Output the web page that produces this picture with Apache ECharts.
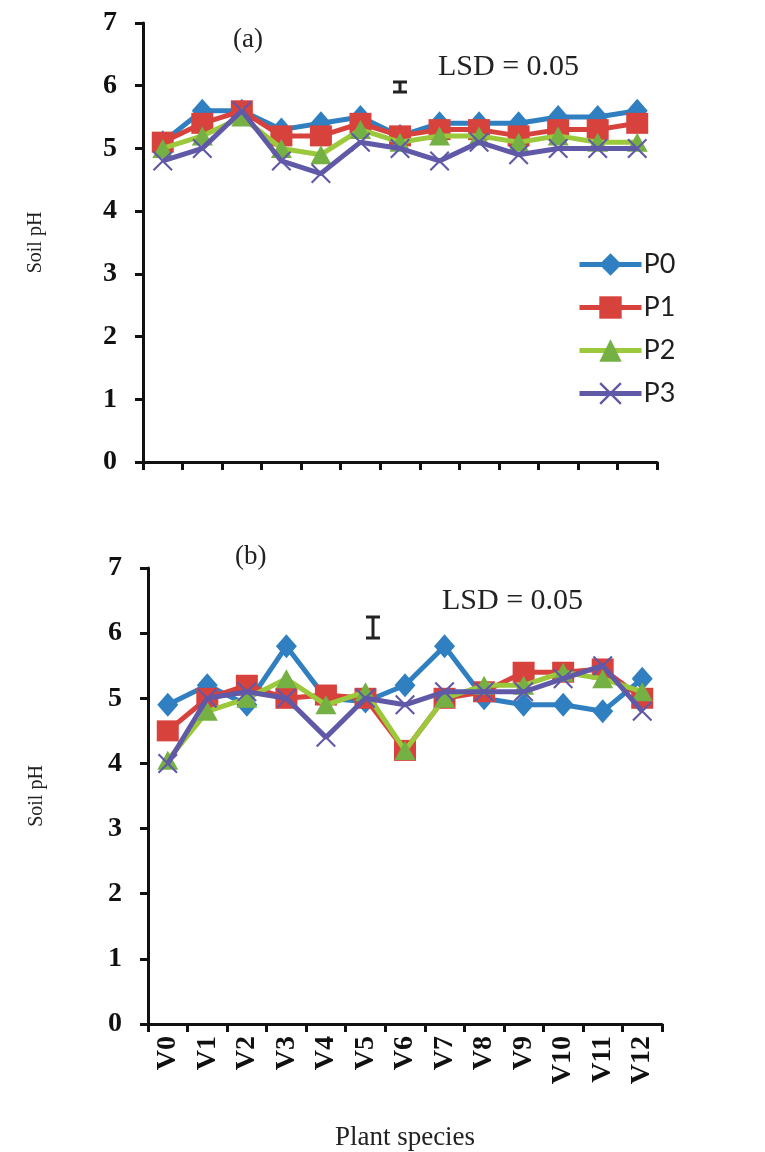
<!DOCTYPE html>
<html>
<head>
<meta charset="utf-8">
<script src="https://cdn.jsdelivr.net/npm/echarts@6.0.0/dist/echarts.min.js"></script>
<style>
  html, body { margin: 0; padding: 0; background: #ffffff; }
  #chart { width: 765px; height: 1152px; }
</style>
</head>
<body>
<div id="chart"></div>
<script>
// Plant species on the x axis
const species = ['V0', 'V1', 'V2', 'V3', 'V4', 'V5', 'V6', 'V7', 'V8', 'V9', 'V10', 'V11', 'V12'];
const seriesNames = ['P0', 'P1', 'P2', 'P3'];

// Panel (a): soil pH per phosphorus level
const phA_P0 = [5.1, 5.6, 5.6, 5.3, 5.4, 5.5, 5.2, 5.4, 5.4, 5.4, 5.5, 5.5, 5.6];
const phA_P1 = [5.1, 5.4, 5.6, 5.2, 5.2, 5.4, 5.2, 5.3, 5.3, 5.2, 5.3, 5.3, 5.4];
const phA_P2 = [5.0, 5.2, 5.5, 5.0, 4.9, 5.3, 5.1, 5.2, 5.2, 5.1, 5.2, 5.1, 5.1];
const phA_P3 = [4.8, 5.0, 5.6, 4.8, 4.6, 5.1, 5.0, 4.8, 5.1, 4.9, 5.0, 5.0, 5.0];

// Panel (b): soil pH per phosphorus level
const phB_P0 = [4.9, 5.2, 4.9, 5.8, 5.0, 4.95, 5.2, 5.8, 5.0, 4.9, 4.9, 4.8, 5.3];
const phB_P1 = [4.5, 5.0, 5.2, 5.0, 5.05, 5.0, 4.2, 5.0, 5.1, 5.4, 5.4, 5.45, 5.0];
const phB_P2 = [4.05, 4.8, 5.0, 5.3, 4.9, 5.1, 4.2, 5.0, 5.2, 5.2, 5.4, 5.3, 5.1];
const phB_P3 = [4.0, 5.0, 5.1, 5.0, 4.4, 5.0, 4.9, 5.1, 5.1, 5.1, 5.3, 5.5, 4.8];

// y axis range and step
const yMin = 0, yMax = 7, yStep = 1;

const serif = '"Liberation Serif", "DejaVu Serif", serif';
const lineColors = ['#2f7fc1', '#d8423c', '#9cc83c', '#6059a8'];
const markColors = ['#2f7fc1', '#d8423c', '#74b043', '#6059a8'];
const crossPath = 'path://M0,1.5L1.5,0L10,8.5L18.5,0L20,1.5L11.5,10L20,18.5L18.5,20L10,11.5L1.5,20L0,18.5L8.5,10Z';
const symbols = ['diamond', 'rect', 'triangle', crossPath];
const symbolSizes = [[21, 24], [22, 21], [21, 19], [20, 20]];

function makeSeries(idx, data, axisIndex) {
  return {
    name: seriesNames[idx],
    type: 'line',
    xAxisIndex: axisIndex,
    yAxisIndex: axisIndex,
    data: data,
    symbol: symbols[idx],
    symbolSize: symbolSizes[idx],
    showSymbol: true,
    lineStyle: { color: lineColors[idx], width: 5 },
    itemStyle: { color: markColors[idx], borderWidth: 0 },
    z: 2 + idx
  };
}

function makeXAxis(gridIndex, showLabels) {
  return {
    type: 'category',
    gridIndex: gridIndex,
    data: species,
    boundaryGap: true,
    axisLine: { lineStyle: { color: '#111', width: 3 } },
    axisTick: { show: true, length: 8, lineStyle: { color: '#111', width: 3 } },
    axisLabel: {
      show: showLabels, rotate: 90, margin: 12, interval: 0,
      fontFamily: serif, fontWeight: 'bold', fontSize: 28, color: '#111'
    },
    name: showLabels ? 'Plant species' : '',
    nameLocation: 'middle',
    nameGap: 100,
    nameTextStyle: { fontFamily: serif, fontSize: 27, color: '#222' },
    splitLine: { show: false }
  };
}

function makeYAxis(gridIndex, gap) {
  return {
    type: 'value',
    gridIndex: gridIndex,
    min: yMin, max: yMax, interval: yStep,
    axisLine: { show: true, lineStyle: { color: '#111', width: 3 } },
    axisTick: { show: true, length: 8, lineStyle: { color: '#111', width: 3 } },
    axisLabel: { margin: 26, fontFamily: serif, fontWeight: 'bold', fontSize: 28, color: '#111' },
    splitLine: { show: false },
    name: 'Soil pH',
    nameLocation: 'middle',
    nameRotate: 90,
    nameGap: gap,
    nameTextStyle: { fontFamily: serif, fontSize: 20, color: '#222' }
  };
}

// LSD bar glyph: vertical stroke with caps
function lsdBar(cx, top, bottom) {
  const half = 7;
  return [
    { type: 'line', shape: { x1: cx, y1: top, x2: cx, y2: bottom }, style: { stroke: '#222', lineWidth: 3 } },
    { type: 'line', shape: { x1: cx - half, y1: top, x2: cx + half, y2: top }, style: { stroke: '#222', lineWidth: 3 } },
    { type: 'line', shape: { x1: cx - half, y1: bottom, x2: cx + half, y2: bottom }, style: { stroke: '#222', lineWidth: 3 } }
  ];
}

const textStyle = (txt, size) => ({ text: txt, font: size + 'px ' + serif, fill: '#222' });

const chart = echarts.init(document.getElementById('chart'), null, { renderer: 'canvas' });
chart.setOption({
  animation: false,
  backgroundColor: '#ffffff',
  grid: [
    { left: 143, top: 23, width: 514, height: 439 },
    { left: 148, top: 568, width: 514, height: 457 }
  ],
  xAxis: [makeXAxis(0, false), makeXAxis(1, true)],
  yAxis: [makeYAxis(0, 97), makeYAxis(1, 101)],
  legend: {
    data: seriesNames,
    orient: 'vertical',
    left: 572,
    top: 246,
    itemWidth: 62,
    itemHeight: 28,
    itemGap: 16,
    lineStyle: { width: 5 },
    textStyle: { fontFamily: 'Lato, "Open Sans", sans-serif', fontSize: 27, color: '#1f1f1f', padding: [0, 0, 0, -3] }
  },
  graphic: [
    { type: 'text', left: 233, top: 26, style: textStyle('(a)', 27) },
    { type: 'text', left: 438, top: 52, style: textStyle('LSD = 0.05', 30) },
    { type: 'text', left: 235, top: 543, style: textStyle('(b)', 27) },
    { type: 'text', left: 442, top: 586, style: textStyle('LSD = 0.05', 30) },
    ...lsdBar(400, 82, 92),
    ...lsdBar(373, 617, 638)
  ],
  series: [
    makeSeries(0, phA_P0, 0), makeSeries(1, phA_P1, 0), makeSeries(2, phA_P2, 0), makeSeries(3, phA_P3, 0),
    makeSeries(0, phB_P0, 1), makeSeries(1, phB_P1, 1), makeSeries(2, phB_P2, 1), makeSeries(3, phB_P3, 1)
  ]
});
</script>
</body>
</html>
